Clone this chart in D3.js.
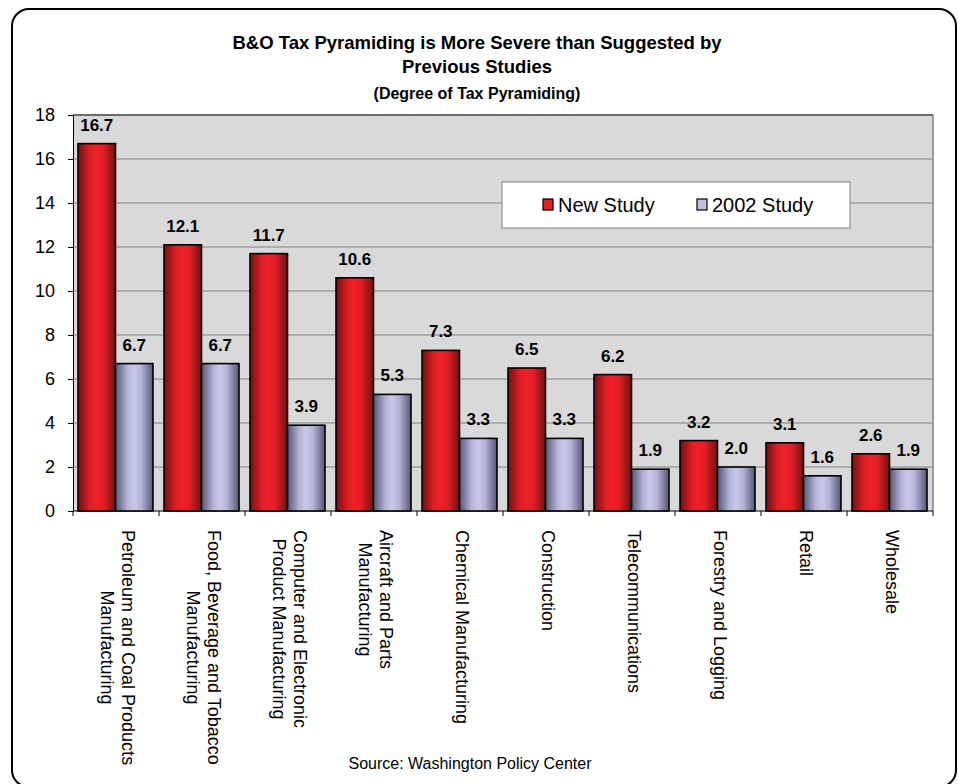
<!DOCTYPE html>
<html>
<head>
<meta charset="utf-8">
<script src="https://cdn.jsdelivr.net/npm/d3@7"></script>
<style>
  body { margin: 0; background: #fff; }
  text { font-family: "Liberation Sans", Arial, sans-serif; fill: #000; }
</style>
</head>
<body>
<div id="chart"></div>
<script>
// data
var categories = [
  ["Petroleum and Coal Products", "Manufacturing"],
  ["Food, Beverage and Tobacco", "Manufacturing"],
  ["Computer and Electronic", "Product Manufacturing"],
  ["Aircraft and Parts", "Manufacturing"],
  ["Chemical Manufacturing"],
  ["Construction"],
  ["Telecommunications"],
  ["Forestry and Logging"],
  ["Retail"],
  ["Wholesale"]
];
var newStudy = [16.7, 12.1, 11.7, 10.6, 7.3, 6.5, 6.2, 3.2, 3.1, 2.6];
var study2002 = [6.7, 6.7, 3.9, 5.3, 3.3, 3.3, 1.9, 2.0, 1.6, 1.9];
var seriesNames = ["New Study", "2002 Study"];
var yTicks = [0, 2, 4, 6, 8, 10, 12, 14, 16, 18];

var width = 958, height = 784;
var plotLeft = 73, plotRight = 933, plotTop = 115, plotBottom = 511;

var svg = d3.select("#chart").append("svg")
  .attr("width", width).attr("height", height);

var defs = svg.append("defs");
function grad(id, stops) {
  var g = defs.append("linearGradient").attr("id", id)
    .attr("x1", "0%").attr("x2", "100%").attr("y1", "0%").attr("y2", "0%");
  stops.forEach(function(s) {
    g.append("stop").attr("offset", s[0]).attr("stop-color", s[1]);
  });
}
grad("gRed", [["0%", "#6e1212"], ["32%", "#e01e25"], ["50%", "#ee2027"], ["68%", "#e01e25"], ["100%", "#6e1212"]]);
grad("gBlue", [["0%", "#565677"], ["32%", "#b4b4d8"], ["50%", "#c8c8e6"], ["68%", "#b4b4d8"], ["100%", "#565677"]]);

// outer frame
svg.append("rect")
  .attr("x", 12).attr("y", 9).attr("width", 944).attr("height", 778)
  .attr("rx", 17).attr("ry", 17)
  .style("fill", "#fff").style("stroke", "#000").style("stroke-width", 2);

// titles
svg.append("text").attr("x", 477).attr("y", 49).attr("text-anchor", "middle")
  .style("font-size", "18.5px").style("font-weight", "bold")
  .text("B&O Tax Pyramiding is More Severe than Suggested by");
svg.append("text").attr("x", 477).attr("y", 73).attr("text-anchor", "middle")
  .style("font-size", "18.5px").style("font-weight", "bold")
  .text("Previous Studies");
svg.append("text").attr("x", 477).attr("y", 99).attr("text-anchor", "middle")
  .style("font-size", "16px").style("font-weight", "bold")
  .text("(Degree of Tax Pyramiding)");

var x0 = d3.scaleBand().domain(d3.range(categories.length)).range([plotLeft, plotRight]);
var x1 = d3.scaleBand().domain([0, 1]).range([5, x0.bandwidth() - 6]);
var y = d3.scaleLinear().domain([0, 18]).range([plotBottom, plotTop]);

// plot background
svg.append("rect").attr("x", plotLeft).attr("y", plotTop)
  .attr("width", plotRight - plotLeft).attr("height", plotBottom - plotTop)
  .style("fill", "#d9d9d9");

// grid lines
svg.append("g").selectAll("line").data(yTicks.slice(1)).join("line")
  .attr("x1", plotLeft).attr("x2", plotRight)
  .attr("y1", function(d) { return y(d); }).attr("y2", function(d) { return y(d); })
  .style("stroke", "#808080").style("stroke-width", 1);
svg.append("line").attr("x1", plotLeft).attr("x2", plotRight).attr("y1", plotTop).attr("y2", plotTop)
  .style("stroke", "#6a6a6a").style("stroke-width", 2);
svg.append("line").attr("x1", plotRight).attr("x2", plotRight).attr("y1", plotTop).attr("y2", plotBottom)
  .style("stroke", "#808080").style("stroke-width", 1.5);

// y axis
var yAxis = svg.append("g").attr("transform", "translate(" + plotLeft + ",0)")
  .call(d3.axisLeft(y).tickValues(yTicks).tickSize(5).tickPadding(13).tickFormat(d3.format("d")));
yAxis.select(".domain").style("stroke", "#000");
yAxis.selectAll(".tick line").style("stroke", "#000");
yAxis.selectAll("text").style("font-size", "18px").attr("font-family", null);

// x axis
var xAxis = svg.append("g").attr("transform", "translate(0," + plotBottom + ")");
xAxis.append("line").attr("x1", plotLeft).attr("x2", plotRight).attr("y1", 0).attr("y2", 0)
  .style("stroke", "#000");
xAxis.selectAll("line.tk").data(d3.range(categories.length + 1)).join("line")
  .attr("class", "tk")
  .attr("x1", function(i) { return plotLeft + i * x0.step(); })
  .attr("x2", function(i) { return plotLeft + i * x0.step(); })
  .attr("y1", 0).attr("y2", 5).style("stroke", "#000");

// bars
var series = [newStudy, study2002];
var fills = ["url(#gRed)", "url(#gBlue)"];
series.forEach(function(vals, s) {
  var g = svg.append("g");
  g.selectAll("rect").data(vals).join("rect")
    .attr("x", function(d, i) { return x0(i) + x1(s); })
    .attr("y", function(d) { return y(d); })
    .attr("width", x1.bandwidth())
    .attr("height", function(d) { return y(0) - y(d); })
    .style("fill", fills[s]).style("stroke", "#000").style("stroke-width", 1.6);
  g.selectAll("text").data(vals).join("text")
    .attr("x", function(d, i) { return x0(i) + x1(s) + x1.bandwidth() / 2; })
    .attr("y", function(d) { return y(d) - 13; })
    .attr("text-anchor", "middle")
    .style("font-size", "17px").style("font-weight", "bold")
    .text(function(d) { return d.toFixed(1); });
});

// category labels, rotated, lines centered on the longest line
var labelTop = 530, lineH = 21;
categories.forEach(function(lines, i) {
  var cx = x0(i) + x0.bandwidth() / 2;
  var g = svg.append("g");
  var texts = lines.map(function(t) {
    return g.append("text").style("font-size", "18px").text(t);
  });
  var maxLen = d3.max(texts, function(t) { return t.node().getComputedTextLength(); });
  var n = lines.length;
  texts.forEach(function(t, k) {
    var tx = cx - 4.5 + ((n - 1) / 2 - k) * lineH;
    t.attr("text-anchor", "middle")
      .attr("transform", "translate(" + tx + "," + (labelTop + maxLen / 2) + ") rotate(90)");
  });
});

// legend
var lg = svg.append("g");
lg.append("rect").attr("x", 502).attr("y", 182).attr("width", 348).attr("height", 46)
  .style("fill", "#fff").style("stroke", "#808080").style("stroke-width", 1);
var legX = [543, 697];
seriesNames.forEach(function(name, s) {
  lg.append("rect").attr("x", legX[s]).attr("y", 199).attr("width", 10).attr("height", 11)
    .style("fill", s === 0 ? "#e21e25" : "#c0c0e0").style("stroke", "#000").style("stroke-width", 1.2);
  lg.append("text").attr("x", legX[s] + 15).attr("y", 212)
    .style("font-size", "20px").text(name);
});

// source
svg.append("text").attr("x", 470).attr("y", 769).attr("text-anchor", "middle")
  .style("font-size", "16px").text("Source: Washington Policy Center");
</script>
</body>
</html>
